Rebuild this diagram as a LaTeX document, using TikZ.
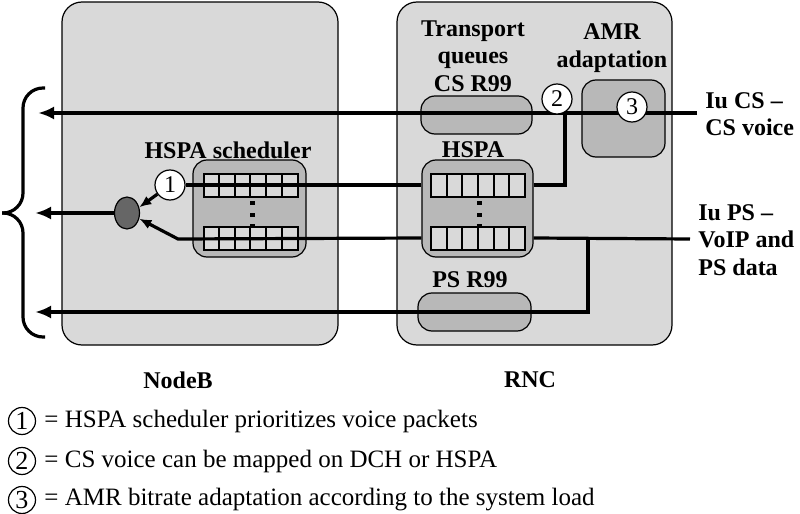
\documentclass[tikz,border=0pt]{standalone}
\usepackage{fontspec}
\setmainfont{Liberation Serif}
\usetikzlibrary{arrows.meta, positioning, shapes.geometric}
\definecolor{boxgray}{RGB}{217,217,217}
\definecolor{innergray}{RGB}{184,184,184}
\definecolor{muxgray}{RGB}{102,102,102}

\begin{document}
\begin{tikzpicture}[x=0.5pt, y=-0.5pt,
  outer/.style={draw, line width=0.6pt, fill=boxgray, rounded corners=10pt},
  inner/.style={draw, line width=0.6pt, fill=innergray, rounded corners=7pt},
  queue/.style={draw, line width=1pt, fill=boxgray, minimum width=47pt, minimum height=11.5pt, inner sep=0pt,
    path picture={\foreach \k in {1,...,5}
      \draw[line width=1pt] ([xshift=\k*7.83pt]path picture bounding box.south west) -- ([xshift=\k*7.83pt]path picture bounding box.north west);}},
  num/.style={draw, circle, fill=white, line width=0.6pt, minimum size=15pt, inner sep=0pt, font=\fontsize{12}{12}\selectfont},
  lbl/.style={font=\fontsize{12}{13.8}\selectfont\bfseries, align=center, inner sep=0pt},
  keytext/.style={font=\fontsize{12.5}{14}\selectfont, inner sep=0pt},
  conn/.style={line width=1.6pt},
  bigtip/.style={-{Latex[length=8pt,width=6.5pt]}},
  smalltip/.style={-{Latex[length=6pt,width=5pt]}}
]
  \useasboundingbox (0,0) rectangle (800,514);

  % network elements
  \node[outer, minimum width=138pt, minimum height=171.5pt] (nodeb) at (200,173.5) {};
  \node[outer, minimum width=137.5pt, minimum height=171.5pt] (rnc) at (534.5,173.5) {};
  \node[lbl] (nodeblbl) at (178,380) {NodeB};
  \node[lbl] (rnclbl) at (530,380) {RNC};

  % inner blocks
  \node[inner, minimum width=56.5pt, minimum height=48.5pt] (sched) at (249.5,208.5) {};
  \node[inner, minimum width=55.5pt, minimum height=48.5pt] (hspa) at (477.5,208.5) {};
  \node[inner, minimum width=55.5pt, minimum height=19pt] (csr99) at (476.5,115) {};
  \node[inner, minimum width=56.5pt, minimum height=19pt] (psr99) at (474.5,312) {};
  \node[inner, minimum width=41.5pt, minimum height=38.5pt] (amr) at (623.5,118.5) {};
  \node[lbl] (schedlbl) at (228,150) {HSPA scheduler};
  \node[lbl] (hspalbl) at (473,150) {HSPA};
  \node[lbl] (tqlbl) at (473,56) {Transport\\queues\\CS R99};
  \node[lbl] (pslbl) at (470,280) {PS R99};
  \node[lbl] (amrlbl) at (612,48) {AMR\\adaptation};

  % queues
  \node[queue] (sq1) at (250.5,185) {};
  \node[queue] (sq2) at (250.5,238) {};
  \node[queue] (rq1) at (478,185) {};
  \node[queue] (rq2) at (478,238) {};
  \foreach \qx in {252,479}
    \foreach \qy in {203,215,226}
      \fill (\qx-2.5,\qy-2) rectangle ++(5,4);

  \node[num] (c1) at (170,185) {1};
  \node[draw, ellipse, fill=muxgray, line width=0.6pt, minimum width=12.5pt, minimum height=16pt, inner sep=0pt] (mux) at (127,213) {};

  % end points
  \coordinate (iucs) at (697,113);
  \coordinate (iups) at (690,239);
  \coordinate (outcs) at (38,113);
  \coordinate (ouths) at (35,213);
  \coordinate (outps) at (35,312);
  \coordinate (split2) at (565,113);
  \coordinate (split3) at (588,239);
  \coordinate (bend) at (178,239);
  \coordinate (bracetop) at (45,88);
  \coordinate (bracebot) at (45,337);
  \coordinate (bracetip) at (2,213);

  % connectors
  \draw[conn, bigtip] (iucs) -- (outcs);
  \draw[conn] (hspa.east |- rq1) -| (split2);
  \draw[conn] (hspa.west |- rq1) -- (c1);
  \draw[conn, smalltip] (c1) -- (mux.25);
  \draw[conn, bigtip] (mux) -- (ouths);
  \draw[conn, smalltip] (hspa.west |- rq2) -- (bend) -- (mux.-25);
  \draw[conn] (iups) -- (hspa.east |- rq2);
  \draw[conn, bigtip] (split3) |- (outps);

  % brace
  \draw[conn, rounded corners=10pt] (bracetop) -- (23,88) -- (23,213) -- (bracetip);
  \draw[conn, rounded corners=10pt] (bracebot) -- (23,337) -- (23,213) -- (bracetip);

  \node[num] (c2) at (557,99) {2};
  \node[num] (c3) at (632,107) {3};

  \node[lbl, anchor=west, align=left] (iucslbl) at (705,114) {Iu CS --\\CS voice};
  \node[lbl, anchor=west, align=left] (iupslbl) at (698,240) {Iu PS --\\VoIP and\\PS data};

  % legend
  \node[num, minimum size=13.5pt, font=\fontsize{13}{13}\selectfont] (k1) at (22,421) {1};
  \node[num, minimum size=13.5pt, font=\fontsize{13}{13}\selectfont] (k2) at (22,461) {2};
  \node[num, minimum size=13.5pt, font=\fontsize{13}{13}\selectfont] (k3) at (22,500) {3};
  \node[keytext, right=4pt of k1] (k1txt) {= HSPA scheduler prioritizes voice packets};
  \node[keytext, right=4pt of k2] (k2txt) {= CS voice can be mapped on DCH or HSPA};
  \node[keytext, right=4pt of k3] (k3txt) {= AMR bitrate adaptation according to the system load};
\end{tikzpicture}
\end{document}
